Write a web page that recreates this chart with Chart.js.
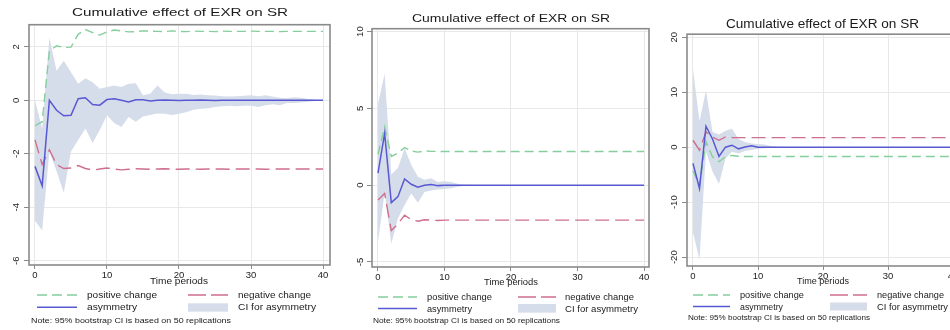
<!DOCTYPE html>
<html><head><meta charset="utf-8">
<script src="https://cdn.jsdelivr.net/npm/chart.js@4/dist/chart.umd.min.js"></script>
<style>
body{margin:0;width:950px;height:330px;overflow:hidden;background:#fff;position:relative;font-family:"Liberation Sans",Arial,sans-serif;color:#1a1a1a}
canvas{position:absolute}
.t{position:absolute;white-space:nowrap;transform-origin:0 50%;line-height:1}
svg{position:absolute;left:0;top:0}
</style></head><body>
<canvas id="c1"></canvas><canvas id="c2"></canvas><canvas id="c3"></canvas>
<svg id="lg" width="950" height="330"></svg>
<script>
// ---------- data ----------
const periods = [0,1,2,3,4,5,6,7,8,9,10,11,12,13,14,15,16,17,18,19,20,21,22,23,24,25,26,27,28,29,30,31,32,33,34,35,36,37,38,39,40];
const xTickLabels = [0,10,20,30,40];
const yTicks1 = [-6,-4,-2,0,2];
const yTicks2 = [-5,0,5,10];
const yTicks3 = [-20,-10,0,10,20];
const chartTitle = "Cumulative effect of EXR on SR";
const xTitle = "Time periods";
const legendNames = ["positive change","negative change","asymmetry","CI for asymmetry"];
const noteText = "Note: 95% bootstrap CI is based on 50 replications";

// panel 1
const pos1 = [-0.95,-0.8,1.85,2.04,1.98,1.99,2.47,2.65,2.53,2.44,
  2.56,2.63,2.6,2.56,2.57,2.6,2.59,2.58,2.57,2.6,
  2.58,2.57,2.59,2.58,2.58,2.57,2.59,2.58,2.58,2.58,
  2.59,2.58,2.58,2.58,2.57,2.58,2.58,2.58,2.58,2.58,
  2.58];
const neg1 = [-1.48,-2.4,-1.85,-2.4,-2.55,-2.53,-2.44,-2.55,-2.61,-2.57,
  -2.53,-2.57,-2.6,-2.58,-2.56,-2.57,-2.58,-2.57,-2.56,-2.57,
  -2.58,-2.57,-2.57,-2.58,-2.57,-2.57,-2.57,-2.58,-2.57,-2.57,
  -2.57,-2.57,-2.58,-2.57,-2.57,-2.57,-2.57,-2.57,-2.57,-2.57,
  -2.57];
const asym1 = [-2.47,-3.2,0.0,-0.37,-0.58,-0.56,0.06,0.1,-0.16,-0.18,
  0.03,0.06,0.0,-0.06,0.02,0.02,-0.02,0.0,0.01,0.0,
  -0.01,0.0,0.0,0.01,0.0,-0.01,0.0,0.0,0.0,0.0,
  0.0,0.0,0.0,0.0,0.0,0.0,0.0,0.0,0.0,0.0,
  0.0];
const up1 = [0.0,-1.05,2.35,1.11,1.48,1.05,0.62,0.83,0.68,0.43,
  0.5,0.56,0.5,0.62,0.64,0.19,0.25,0.56,0.3,0.23,
  0.25,0.25,0.2,0.22,0.19,0.18,0.15,0.14,0.15,0.17,
  0.19,0.15,0.19,0.14,0.1,0.08,0.12,0.1,0.05,0.02,
  0.0];
const lo1 = [-4.5,-4.87,-1.91,-2.65,-3.46,-1.91,-1.48,-1.05,-1.6,-1.11,
  -0.56,-0.85,-1.0,-0.62,-0.8,-0.6,-0.55,-0.49,-0.5,-0.55,
  -0.5,-0.45,-0.35,-0.31,-0.3,-0.25,-0.22,-0.2,-0.22,-0.2,
  -0.2,-0.25,-0.18,-0.15,-0.18,-0.1,-0.1,-0.08,-0.05,-0.02,
  0.0];

// panel 2
const pos2 = [2.0,3.8,1.87,2.08,2.45,2.23,2.15,2.23,2.2,2.2,
  2.19,2.19,2.19,2.19,2.19,2.19,2.19,2.19,2.19,2.19,
  2.19,2.19,2.19,2.19,2.19,2.19,2.19,2.19,2.19,2.19,
  2.19,2.19,2.19,2.19,2.19,2.19,2.19,2.19,2.19,2.19,
  2.19];
const neg2 = [-0.97,-0.54,-2.96,-2.53,-1.95,-2.25,-2.35,-2.25,-2.28,-2.3,
  -2.28,-2.28,-2.28,-2.28,-2.28,-2.28,-2.28,-2.28,-2.28,-2.28,
  -2.28,-2.28,-2.28,-2.28,-2.28,-2.28,-2.28,-2.28,-2.28,-2.28,
  -2.28,-2.28,-2.28,-2.28,-2.28,-2.28,-2.28,-2.28,-2.28,-2.28,
  -2.28];
const asym2 = [0.79,3.37,-1.14,-0.75,0.4,0.06,-0.13,0.0,0.04,-0.03,
  0,0,0,0,0,0,0,0,0,0,
  0,0,0,0,0,0,0,0,0,0,
  0,0,0,0,0,0,0,0,0,0,
  0];
const up2 = [5.3,7.25,0.7,1.12,2.4,1.33,0.55,0.35,0.45,0.2,
  0.26,0.21,0.1,0.03,0.02,0.01,0,0,0,0,
  0,0,0,0,0,0,0,0,0,0,
  0,0,0,0,0,0,0,0,0,0,
  0];
const lo2 = [-3.7,-0.5,-3.82,-2.15,-1.3,-0.55,-1.14,-0.45,-0.35,-0.28,
  -0.25,-0.2,-0.1,-0.05,-0.03,-0.02,0,0,0,0,
  0,0,0,0,0,0,0,0,0,0,
  0,0,0,0,0,0,0,0,0,0,
  0];

// panel 3
const pos3 = [-4.3,-7.0,1.0,-1.74,-2.64,-1.74,-1.5,-1.65,-1.7,-1.7,
  -1.7,-1.7,-1.7,-1.7,-1.7,-1.7,-1.7,-1.7,-1.7,-1.7,
  -1.7,-1.7,-1.7,-1.7,-1.7,-1.7,-1.7,-1.7,-1.7,-1.7,
  -1.7,-1.7,-1.7,-1.7,-1.7,-1.7,-1.7,-1.7,-1.7,-1.7,
  -1.7];
const neg3 = [1.26,-0.54,2.76,1.86,1.26,1.86,1.74,1.74,1.74,1.74,
  1.74,1.74,1.74,1.74,1.74,1.74,1.74,1.74,1.74,1.74,
  1.74,1.74,1.74,1.74,1.74,1.74,1.74,1.74,1.74,1.74,
  1.74,1.74,1.74,1.74,1.74,1.74,1.74,1.74,1.74,1.74,
  1.74];
const asym3 = [-2.94,-7.5,3.8,1.5,-1.68,0.0,0.36,-0.3,0.03,0.27,
  0,0,0,0,0,0,0,0,0,0,
  0,0,0,0,0,0,0,0,0,0,
  0,0,0,0,0,0,0,0,0,0,
  0];
const up3 = [14.2,4.7,10.3,2.76,2.3,3.0,3.36,1.5,0.96,0.66,
  0.6,0.5,0.2,0.1,0.05,0,0,0,0,0,
  0,0,0,0,0,0,0,0,0,0,
  0,0,0,0,0,0,0,0,0,0,
  0];
const lo3 = [-15.5,-20.4,-0.84,-4.44,-6.7,-2.04,-0.84,-1.14,-0.7,-0.5,
  -0.3,-0.2,-0.1,-0.05,-0.02,0,0,0,0,0,
  0,0,0,0,0,0,0,0,0,0,
  0,0,0,0,0,0,0,0,0,0,
  0];

// ---------- styles ----------
const GREEN = '#84cf9b', RED = '#cf6e8d', BLUE = '#5858d2', CI = '#d6ddea';
const FRAME = '#8a8a8a', GRID = '#e8e8e8', TXT = '#222';
const TICKFONT = {family:'"Liberation Sans", Arial, sans-serif', size:9.5};

const framePlugin = {
  id:'frame',
  afterDatasetsDraw(ch){
    const {ctx, chartArea:a} = ch;
    ctx.save(); ctx.strokeStyle = FRAME; ctx.lineWidth = 1.6;
    ctx.strokeRect(a.left, a.top, a.right - a.left, a.bottom - a.top);
    ctx.restore();
  }
};

function makeChart(id, frame, xr, yr, yTicks, s, labelPad){
  const padL = 28, padT = 4, padR = 4, axH = 18;
  const cv = document.getElementById(id);
  const W = frame.r - frame.l + padL + padR, H = frame.b - frame.t + padT + axH;
  cv.width = W; cv.height = H;
  cv.style.left = (frame.l - padL) + 'px'; cv.style.top = (frame.t - padT) + 'px';
  cv.style.width = W + 'px'; cv.style.height = H + 'px';
  const pts = arr => periods.map((p, i) => ({x:p, y:arr[i]}));
  new Chart(cv, {
    type:'line',
    data:{datasets:[
      {data:pts(s.asym), borderColor:BLUE, borderWidth:1.5},
      {data:pts(s.pos), borderColor:GREEN, borderWidth:1.4, borderDash:[9,5]},
      {data:pts(s.neg), borderColor:RED, borderWidth:1.4, borderDash:[14,6]},
      {data:pts(s.up), borderColor:'rgba(0,0,0,0)', borderWidth:1, backgroundColor:CI, fill:'+1'},
      {data:pts(s.lo), borderColor:'rgba(0,0,0,0)', borderWidth:1, fill:false}
    ]},
    options:{
      responsive:false, animation:false, devicePixelRatio:1,
      layout:{padding:{top:padT, right:padR, left:0, bottom:0}},
      elements:{point:{radius:0}, line:{tension:0}},
      plugins:{legend:{display:false}, tooltip:{enabled:false}, title:{display:false}},
      scales:{
        x:{type:'linear', min:xr[0], max:xr[1],
          afterBuildTicks: sc => { sc.ticks = xTickLabels.map(v => ({value:v})); },
          afterFit: sc => { sc.height = axH; },
          grid:{color:GRID, lineWidth:1, tickLength:4, tickColor:FRAME},
          border:{display:false},
          ticks:{font:TICKFONT, color:TXT, padding:1, maxRotation:0, autoSkip:false}},
        y:{type:'linear', min:yr[0], max:yr[1],
          afterBuildTicks: sc => { sc.ticks = yTicks.map(v => ({value:v})); },
          afterFit: sc => { sc.width = padL; },
          grid:{color:GRID, lineWidth:1, tickLength:5, tickColor:FRAME},
          border:{display:false},
          ticks:{font:TICKFONT, color:TXT, minRotation:90, maxRotation:90, crossAlign:'center', padding:labelPad, autoSkip:false}}
      }
    },
    plugins:[framePlugin]
  });
}

makeChart('c1', {l:29,t:20,r:330,b:265}, [-0.83,40.97], [-6.16,2.83], yTicks1,
  {pos:pos1, neg:neg1, asym:asym1, up:up1, lo:lo1}, 3);
makeChart('c2', {l:372,t:26,r:649,b:267}, [-0.9,40.75], [-5.33,10.19], yTicks2,
  {pos:pos2, neg:neg2, asym:asym2, up:up2, lo:lo2}, 1);
makeChart('c3', {l:687,t:32,r:958,b:266}, [-0.92,40.75], [-21.6,20.54], yTicks3,
  {pos:pos3, neg:neg3, asym:asym3, up:up3, lo:lo3}, 0.5);

// ---------- text ----------
function txt(str, left, cy, w, fs){
  const d = document.createElement('div');
  d.className = 't'; d.textContent = str;
  d.style.left = left + 'px'; d.style.top = cy + 'px'; d.style.fontSize = fs + 'px';
  document.body.appendChild(d);
  const k = w / d.getBoundingClientRect().width;
  d.style.transform = 'translateY(-50%) scaleX(' + k + ')';
}
const SVGNS = 'http://www.w3.org/2000/svg';
const svg = document.getElementById('lg');
function sline(x1, x2, y, color, dash, w){
  const l = document.createElementNS(SVGNS, 'line');
  l.setAttribute('x1', x1); l.setAttribute('x2', x2); l.setAttribute('y1', y); l.setAttribute('y2', y);
  l.setAttribute('stroke', color); l.setAttribute('stroke-width', w);
  if (dash) l.setAttribute('stroke-dasharray', dash);
  svg.appendChild(l);
}
function srect(x, y, w, h, color){
  const r = document.createElementNS(SVGNS, 'rect');
  r.setAttribute('x', x); r.setAttribute('y', y); r.setAttribute('width', w); r.setAttribute('height', h);
  r.setAttribute('fill', color); svg.appendChild(r);
}

// layout per panel: title, x-title, legend, note
const panels = [
  {title:[72,13,216,11.5], xt:[150,281,58,9.5],
   r1:295, r2:307.3, lx:[37,77], rx:[188,228], rect:[303.3,8.4],
   lt:[[87,70],[238,73],[87,50],[238,78]], note:[31,321,200,7.5]},
  {title:[412,18.5,198,11.5], xt:[484,282,54,9.5],
   r1:297, r2:308.5, lx:[378,417], rx:[518,556], rect:[304,8.7],
   lt:[[427,65],[565,69],[427,45],[565,73]], note:[373,321,187,7.5]},
  {title:[726,24,193,12], xt:[797,281,52,9.5],
   r1:295, r2:306.5, lx:[693,730], rx:[830,867], rect:[302.5,8],
   lt:[[740,64],[877,67],[740,43],[877,71]], note:[688,318,182,7.5]}
];
panels.forEach(p => {
  txt(chartTitle, p.title[0], p.title[1], p.title[2], p.title[3]);
  txt(xTitle, p.xt[0], p.xt[1], p.xt[2], p.xt[3]);
  sline(p.lx[0], p.lx[1], p.r1, GREEN, '10 5', 1.4);
  sline(p.rx[0], p.rx[1], p.r1, RED, '18 5', 1.4);
  sline(p.lx[0], p.lx[1], p.r2, BLUE, null, 1.5);
  srect(p.rx[0], p.rect[0], p.rx[1] - p.rx[0], p.rect[1], CI);
  txt(legendNames[0], p.lt[0][0], p.r1, p.lt[0][1], 9.5);
  txt(legendNames[1], p.lt[1][0], p.r1, p.lt[1][1], 9.5);
  txt(legendNames[2], p.lt[2][0], p.r2, p.lt[2][1], 9.5);
  txt(legendNames[3], p.lt[3][0], p.r2, p.lt[3][1], 9.5);
  txt(noteText, p.note[0], p.note[1], p.note[2], p.note[3]);
});
</script>
</body></html>
